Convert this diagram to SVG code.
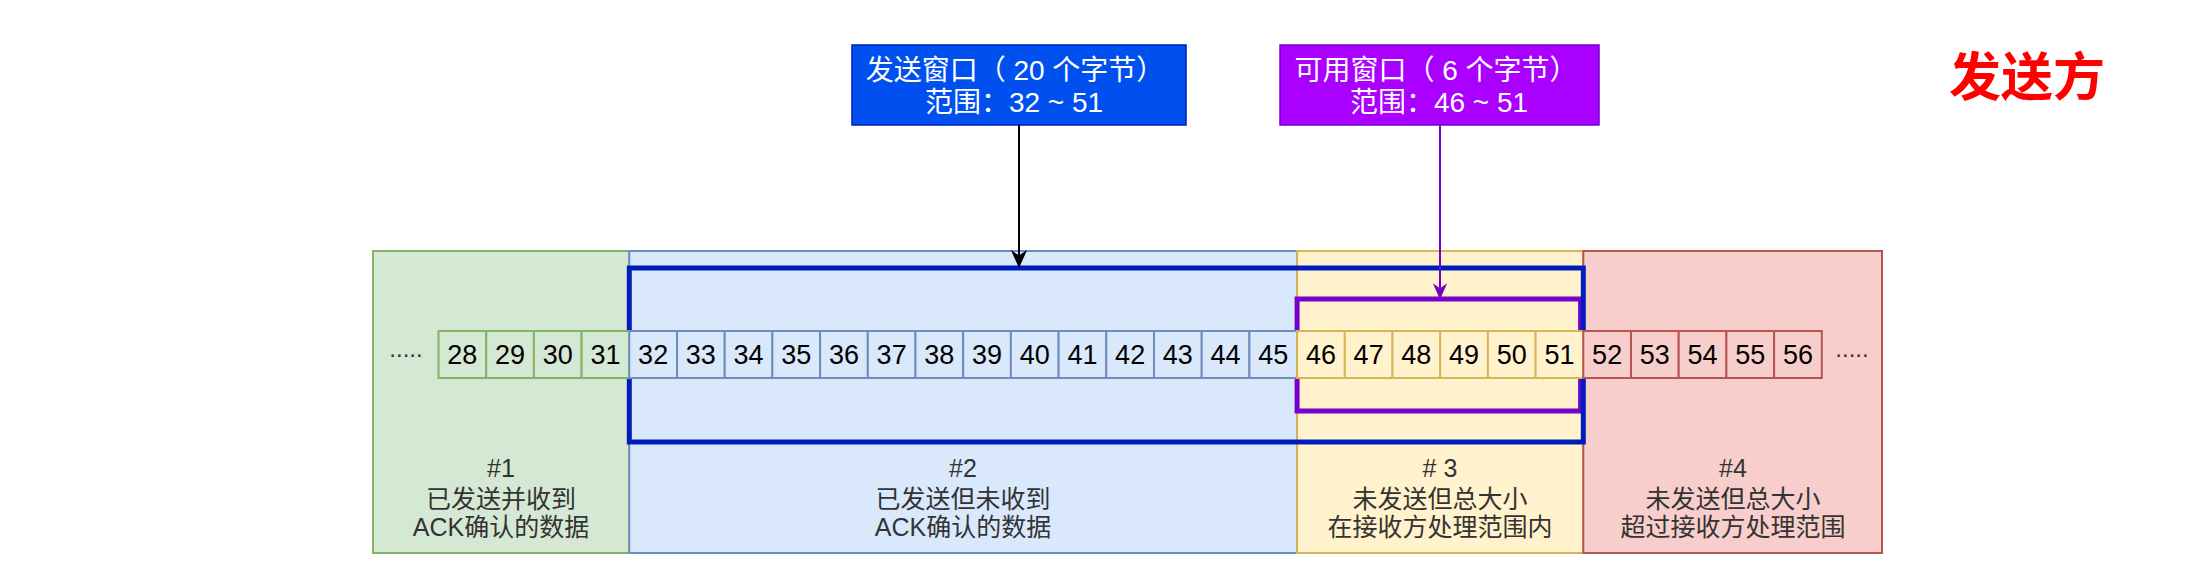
<svg xmlns="http://www.w3.org/2000/svg" width="2204" height="576" viewBox="0 0 2204 576">
<style>
text{font-family:"Liberation Sans","Noto Sans CJK SC",sans-serif;text-anchor:middle;dominant-baseline:central}
.rl{font-size:25px;fill:#333333}
.num{font-size:27px;fill:#000000}
.dots{font-size:24px;fill:#333333;dominant-baseline:alphabetic}
.lbl{font-size:28px;fill:#ffffff}
.g rect{fill:#d5e8d4;stroke:#82b366;stroke-width:2}
.b rect{fill:#dae8fc;stroke:#6c8ebf;stroke-width:2}
.y rect{fill:#fff2cc;stroke:#d6b656;stroke-width:2}
.r rect{fill:#f8cecc;stroke:#b85450;stroke-width:2}
.cell rect{width:47.7px;height:47px}
.win{fill:none;stroke-width:5}
.title{font-family:"Noto Sans CJK SC",sans-serif;font-size:52px;font-weight:bold;fill:#ff0000}
.conn{fill:none;stroke-width:2}
</style>
<defs>
<marker id="arrB" viewBox="0 0 20 20" refX="13.3" refY="10" markerWidth="18" markerHeight="18" markerUnits="userSpaceOnUse" orient="auto">
<path d="M0,1 L20,10 L0,19 L6,10 Z" fill="#000000"/>
</marker>
<marker id="arrP" viewBox="0 0 20 20" refX="13.3" refY="10" markerWidth="16" markerHeight="16" markerUnits="userSpaceOnUse" orient="auto">
<path d="M0,1 L20,10 L0,19 L6,10 Z" fill="#7700cc"/>
</marker>
</defs>
<rect width="2204" height="576" fill="#ffffff"/>

<g id="region-1" class="g">
<rect x="373" y="251" width="256.3" height="302"/>
<text class="rl" x="501" y="468">#1</text>
<text class="rl" x="501" y="499">已发送并收到</text>
<text class="rl" x="501" y="527">ACK确认的数据</text>
</g>
<g id="region-2" class="b">
<rect x="629.3" y="251" width="667.8" height="302"/>
<text class="rl" x="963" y="468">#2</text>
<text class="rl" x="963" y="499">已发送但未收到</text>
<text class="rl" x="963" y="527">ACK确认的数据</text>
</g>
<g id="region-3" class="y">
<rect x="1297.1" y="251" width="286.2" height="302"/>
<text class="rl" x="1440" y="468"># 3</text>
<text class="rl" x="1440" y="499">未发送但总大小</text>
<text class="rl" x="1440" y="527">在接收方处理范围内</text>
</g>
<g id="region-4" class="r">
<rect x="1583.3" y="251" width="298.7" height="302"/>
<text class="rl" x="1733" y="468">#4</text>
<text class="rl" x="1733" y="499">未发送但总大小</text>
<text class="rl" x="1733" y="527">超过接收方处理范围</text>
</g>

<g id="usable-window">
<rect class="win" x="1297.1" y="299" width="283.5" height="112" stroke="#7700cc"/>
</g>
<g id="send-window">
<rect class="win" x="629.3" y="268" width="954" height="174" stroke="#001dbc"/>
</g>

<g id="cells">
<g id="cell-28" class="cell g" transform="translate(438.5,331)"><rect x="0" y="0"/><text class="num" x="23.85" y="24">28</text></g>
<g id="cell-29" class="cell g" transform="translate(486.2,331)"><rect x="0" y="0"/><text class="num" x="23.85" y="24">29</text></g>
<g id="cell-30" class="cell g" transform="translate(533.9,331)"><rect x="0" y="0"/><text class="num" x="23.85" y="24">30</text></g>
<g id="cell-31" class="cell g" transform="translate(581.6,331)"><rect x="0" y="0"/><text class="num" x="23.85" y="24">31</text></g>
<g id="cell-32" class="cell b" transform="translate(629.3,331)"><rect x="0" y="0"/><text class="num" x="23.85" y="24">32</text></g>
<g id="cell-33" class="cell b" transform="translate(677.0,331)"><rect x="0" y="0"/><text class="num" x="23.85" y="24">33</text></g>
<g id="cell-34" class="cell b" transform="translate(724.7,331)"><rect x="0" y="0"/><text class="num" x="23.85" y="24">34</text></g>
<g id="cell-35" class="cell b" transform="translate(772.4,331)"><rect x="0" y="0"/><text class="num" x="23.85" y="24">35</text></g>
<g id="cell-36" class="cell b" transform="translate(820.1,331)"><rect x="0" y="0"/><text class="num" x="23.85" y="24">36</text></g>
<g id="cell-37" class="cell b" transform="translate(867.8,331)"><rect x="0" y="0"/><text class="num" x="23.85" y="24">37</text></g>
<g id="cell-38" class="cell b" transform="translate(915.5,331)"><rect x="0" y="0"/><text class="num" x="23.85" y="24">38</text></g>
<g id="cell-39" class="cell b" transform="translate(963.2,331)"><rect x="0" y="0"/><text class="num" x="23.85" y="24">39</text></g>
<g id="cell-40" class="cell b" transform="translate(1010.9,331)"><rect x="0" y="0"/><text class="num" x="23.85" y="24">40</text></g>
<g id="cell-41" class="cell b" transform="translate(1058.6,331)"><rect x="0" y="0"/><text class="num" x="23.85" y="24">41</text></g>
<g id="cell-42" class="cell b" transform="translate(1106.3,331)"><rect x="0" y="0"/><text class="num" x="23.85" y="24">42</text></g>
<g id="cell-43" class="cell b" transform="translate(1154.0,331)"><rect x="0" y="0"/><text class="num" x="23.85" y="24">43</text></g>
<g id="cell-44" class="cell b" transform="translate(1201.7,331)"><rect x="0" y="0"/><text class="num" x="23.85" y="24">44</text></g>
<g id="cell-45" class="cell b" transform="translate(1249.4,331)"><rect x="0" y="0"/><text class="num" x="23.85" y="24">45</text></g>
<g id="cell-46" class="cell y" transform="translate(1297.1,331)"><rect x="0" y="0"/><text class="num" x="23.85" y="24">46</text></g>
<g id="cell-47" class="cell y" transform="translate(1344.8,331)"><rect x="0" y="0"/><text class="num" x="23.85" y="24">47</text></g>
<g id="cell-48" class="cell y" transform="translate(1392.5,331)"><rect x="0" y="0"/><text class="num" x="23.85" y="24">48</text></g>
<g id="cell-49" class="cell y" transform="translate(1440.2,331)"><rect x="0" y="0"/><text class="num" x="23.85" y="24">49</text></g>
<g id="cell-50" class="cell y" transform="translate(1487.9,331)"><rect x="0" y="0"/><text class="num" x="23.85" y="24">50</text></g>
<g id="cell-51" class="cell y" transform="translate(1535.6,331)"><rect x="0" y="0"/><text class="num" x="23.85" y="24">51</text></g>
<g id="cell-52" class="cell r" transform="translate(1583.3,331)"><rect x="0" y="0"/><text class="num" x="23.85" y="24">52</text></g>
<g id="cell-53" class="cell r" transform="translate(1631.0,331)"><rect x="0" y="0"/><text class="num" x="23.85" y="24">53</text></g>
<g id="cell-54" class="cell r" transform="translate(1678.7,331)"><rect x="0" y="0"/><text class="num" x="23.85" y="24">54</text></g>
<g id="cell-55" class="cell r" transform="translate(1726.4,331)"><rect x="0" y="0"/><text class="num" x="23.85" y="24">55</text></g>
<g id="cell-56" class="cell r" transform="translate(1774.1,331)"><rect x="0" y="0"/><text class="num" x="23.85" y="24">56</text></g>
</g>

<g id="dots-left"><text class="dots" x="406" y="357">.....</text></g>
<g id="dots-right"><text class="dots" x="1852" y="357">.....</text></g>

<g id="send-window-label">
<rect x="852" y="45" width="334" height="80" fill="#0050ef" stroke="#001dbc" stroke-width="1.5"/>
<text class="lbl" x="1015" y="70">发送窗口（ 20 个字节）</text>
<text class="lbl" x="1014" y="102">范围：32 ~ 51</text>
</g>
<g id="usable-window-label">
<rect x="1280" y="45" width="319" height="80" fill="#aa00ff" stroke="#7700cc" stroke-width="1.5"/>
<text class="lbl" x="1436" y="70">可用窗口（ 6 个字节）</text>
<text class="lbl" x="1439" y="102">范围：46 ~ 51</text>
</g>

<g id="sender-title">
<text class="title" x="2027" y="73">发送方</text>
</g>

<g id="connectors">
<path class="conn" d="M1019,125 L1019,262" stroke="#000000" marker-end="url(#arrB)"/>
<path class="conn" d="M1440,125 L1440,294" stroke="#7700cc" marker-end="url(#arrP)"/>
</g>
</svg>
